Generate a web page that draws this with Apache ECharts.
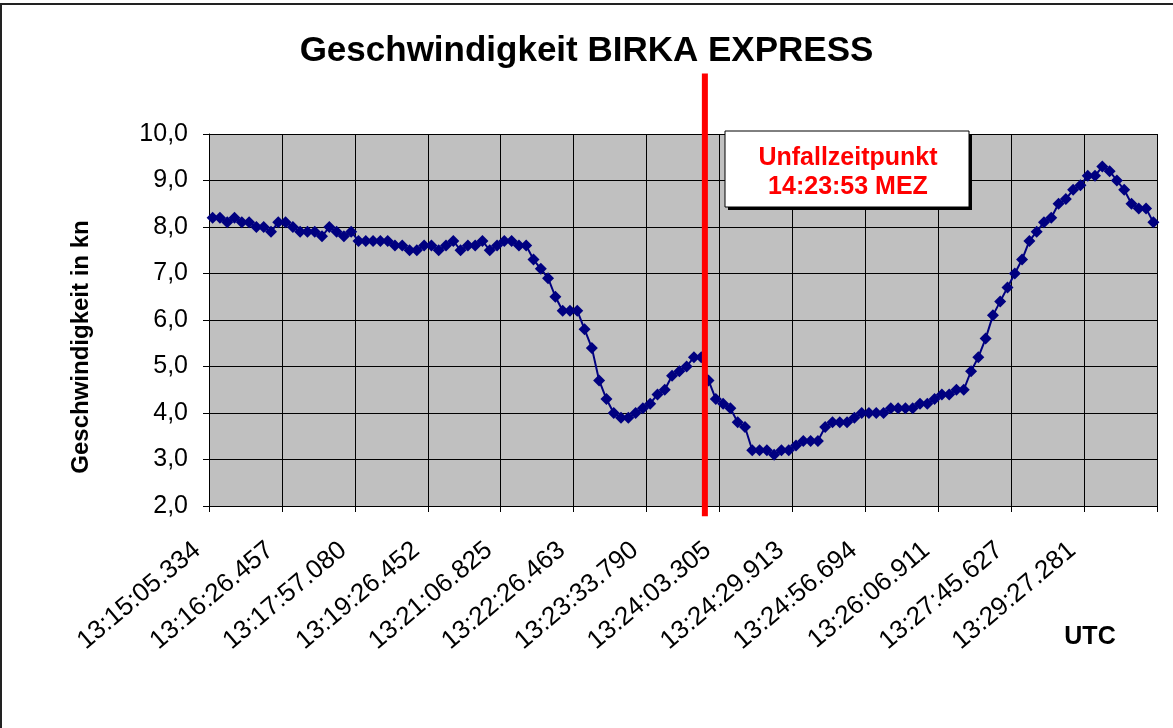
<!DOCTYPE html>
<html>
<head>
<meta charset="utf-8">
<script src="https://cdn.jsdelivr.net/npm/echarts@6/dist/echarts.min.js"></script>
<style>
html, body { margin: 0; padding: 0; background: #fff; }
#chart { width: 1173px; height: 728px; }
</style>
</head>
<body>
<div id="chart"></div>
<script>
// Beschriftete Zeitpunkte (jeder 10. Messpunkt)
const tickLabels = ['13:15:05.334', '13:16:26.457', '13:17:57.080', '13:19:26.452', '13:21:06.825',
  '13:22:26.463', '13:23:33.790', '13:24:03.305', '13:24:29.913', '13:24:56.694',
  '13:26:06.911', '13:27:45.627', '13:29:27.281'];

// Geschwindigkeit in kn
const speeds = [
  8.2, 8.2, 8.1, 8.2, 8.1, 8.1, 8.0, 8.0, 7.9, 8.1,
  8.1, 8.0, 7.9, 7.9, 7.9, 7.8, 8.0, 7.9, 7.8, 7.9,
  7.7, 7.7, 7.7, 7.7, 7.7, 7.6, 7.6, 7.5, 7.5, 7.6,
  7.6, 7.5, 7.6, 7.7, 7.5, 7.6, 7.6, 7.7, 7.5, 7.6,
  7.7, 7.7, 7.6, 7.6, 7.3, 7.1, 6.9, 6.5, 6.2, 6.2,
  6.2, 5.8, 5.4, 4.7, 4.3, 4.0, 3.9, 3.9, 4.0, 4.1,
  4.2, 4.4, 4.5, 4.8, 4.9, 5.0, 5.2, 5.2, 4.7, 4.3,
  4.2, 4.1, 3.8, 3.7, 3.2, 3.2, 3.2, 3.1, 3.2, 3.2,
  3.3, 3.4, 3.4, 3.4, 3.7, 3.8, 3.8, 3.8, 3.9, 4.0,
  4.0, 4.0, 4.0, 4.1, 4.1, 4.1, 4.1, 4.2, 4.2, 4.3,
  4.4, 4.4, 4.5, 4.5, 4.9, 5.2, 5.6, 6.1, 6.4, 6.7,
  7.0, 7.3, 7.7, 7.9, 8.1, 8.2, 8.5, 8.6, 8.8, 8.9,
  9.1, 9.1, 9.3, 9.2, 9.0, 8.8, 8.5, 8.4, 8.4, 8.1
];

const categories = speeds.map((v, i) => (i % 10 === 0 ? tickLabels[i / 10] : ''));
const accidentIndex = 68; // Unfallzeitpunkt liegt vor diesem Messpunkt

const font = 'Arial, "Liberation Sans", sans-serif';
const myChart = echarts.init(document.getElementById('chart'));

myChart.setOption({
  animation: false,
  backgroundColor: '#ffffff',
  title: {
    text: 'Geschwindigkeit BIRKA EXPRESS',
    left: 'center',
    top: 29,
    textStyle: { fontFamily: font, fontSize: 35, fontWeight: 'bold', color: '#000' }
  },
  grid: {
    left: 209, right: 16, top: 134, bottom: 222,
    containLabel: false, outerBoundsMode: 'none',
    show: true, backgroundColor: '#c0c0c0', borderWidth: 0
  },
  xAxis: {
    type: 'category',
    data: categories,
    boundaryGap: true,
    axisLine: { lineStyle: { color: '#000', width: 1 } },
    axisTick: { show: true, interval: 9, length: 6, lineStyle: { color: '#000' } },
    splitLine: { show: true, interval: 9, lineStyle: { color: '#000', width: 1 } },
    axisLabel: {
      interval: 9, rotate: 40, margin: 28, padding: [0, 20, 0, 0],
      fontFamily: font, fontSize: 26, color: '#000'
    }
  },
  yAxis: {
    type: 'value',
    min: 2, max: 10, interval: 1,
    axisLine: { show: true, lineStyle: { color: '#000', width: 1 } },
    axisTick: { show: true, length: 6, lineStyle: { color: '#000' } },
    splitLine: { show: true, lineStyle: { color: '#000', width: 1 } },
    axisLabel: {
      margin: 21, fontFamily: font, fontSize: 25, color: '#000',
      formatter: v => v.toFixed(1).replace('.', ',')
    }
  },
  series: [{
    type: 'line',
    data: speeds,
    symbol: 'diamond',
    symbolSize: 12,
    showAllSymbol: true,
    lineStyle: { color: '#000080', width: 2 },
    itemStyle: { color: '#000080' }
  }]
});

// Rote Linie und Hinweisbox aus den Achsen berechnen
const xa = myChart.convertToPixel({ xAxisIndex: 0 }, accidentIndex - 1);
const xb = myChart.convertToPixel({ xAxisIndex: 0 }, accidentIndex);
const xr = (xa + xb) / 2;
const yTop = myChart.convertToPixel({ yAxisIndex: 0 }, 11.3);
const yBot = myChart.convertToPixel({ yAxisIndex: 0 }, 1.78);

myChart.setOption({
  graphic: [
    { type: 'rect', shape: { x: 1, y: 4, width: 1200, height: 800 },
      style: { fill: null, stroke: '#222', lineWidth: 2 }, silent: true },
    { type: 'line', shape: { x1: xr, y1: yTop, x2: xr, y2: yBot },
      style: { stroke: '#ff0000', lineWidth: 6 }, z: 100 },
    { type: 'rect', shape: { x: 728, y: 134, width: 244, height: 76 },
      style: { fill: '#000' }, z: 100 },
    { type: 'rect', shape: { x: 725, y: 131, width: 244, height: 76 },
      style: { fill: '#fff', stroke: '#000', lineWidth: 1 }, z: 101 },
    { type: 'text', x: 848, y: 158, z: 102,
      style: { text: 'Unfallzeitpunkt', fill: '#ff0000', font: 'bold 25px ' + font,
        textAlign: 'center', textVerticalAlign: 'middle' } },
    { type: 'text', x: 848, y: 187, z: 102,
      style: { text: '14:23:53 MEZ', fill: '#ff0000', font: 'bold 25px ' + font,
        textAlign: 'center', textVerticalAlign: 'middle' } },
    { type: 'text', x: 81, y: 347, rotation: Math.PI / 2, z: 102,
      style: { text: 'Geschwindigkeit in kn', fill: '#000', font: 'bold 24px ' + font,
        textAlign: 'center', textVerticalAlign: 'middle' } },
    { type: 'text', x: 1090, y: 637, z: 102,
      style: { text: 'UTC', fill: '#000', font: 'bold 25px ' + font,
        textAlign: 'center', textVerticalAlign: 'middle' } }
  ]
});
</script>
</body>
</html>
